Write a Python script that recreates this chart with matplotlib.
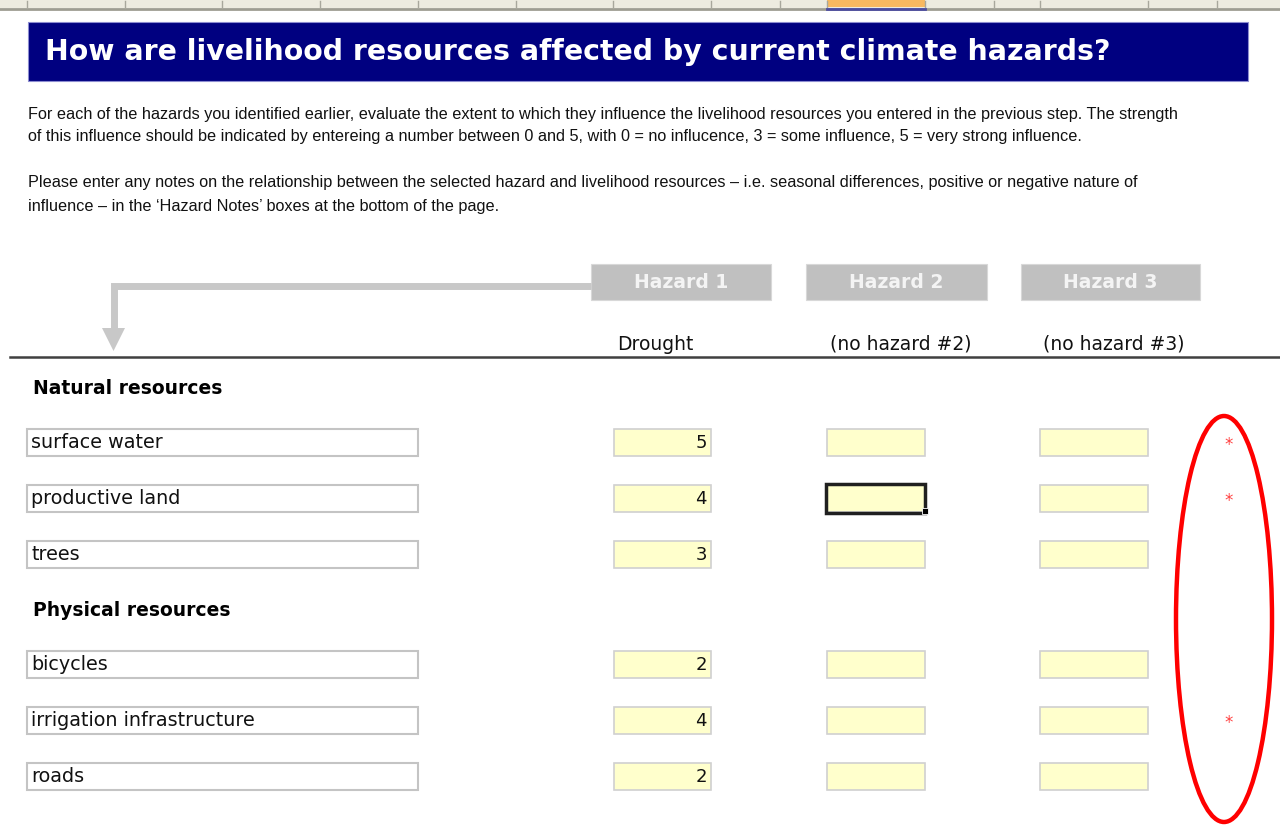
import matplotlib
matplotlib.use("Agg")
import matplotlib.pyplot as plt
from matplotlib.patches import Rectangle, Ellipse, Polygon

title = "How are livelihood resources affected by current climate hazards?"
intro_lines = [
    "For each of the hazards you identified earlier, evaluate the extent to which they influence the livelihood resources you entered in the previous step. The strength",
    "of this influence should be indicated by entereing a number between 0 and 5, with 0 = no influcence, 3 = some influence, 5 = very strong influence.",
    "",
    "Please enter any notes on the relationship between the selected hazard and livelihood resources \u2013 i.e. seasonal differences, positive or negative nature of",
    "influence \u2013 in the \u2018Hazard Notes\u2019 boxes at the bottom of the page.",
]
hazard_labels = ["Hazard 1", "Hazard 2", "Hazard 3"]
hazard_names = ["Drought", "(no hazard #2)", "(no hazard #3)"]
groups = ["Natural resources", "Physical resources"]
resources = ["surface water", "productive land", "trees",
             "bicycles", "irrigation infrastructure", "roads"]
resource_group = [0, 0, 0, 1, 1, 1]
drought_scores = [5, 4, 3, 2, 4, 2]
flagged = [True, True, False, False, True, False]

W, H = 1280, 825
fig = plt.figure(figsize=(W / 100, H / 100), dpi=100)
ax = fig.add_axes([0, 0, 1, 1])
ax.set_xlim(0, W)
ax.set_ylim(H, 0)
ax.axis("off")

narrow = ["Liberation Sans Narrow", "Liberation Sans", "DejaVu Sans"]

# spreadsheet column header strip at the very top
ax.add_patch(Rectangle((0, 0), W, 8, facecolor="#EDEBE0", edgecolor="none"))
ax.plot([0, W], [8.5, 8.5], color="#9E9D92", lw=2)
for x in [27, 125, 222, 320, 418, 516, 613, 711, 780, 827, 925, 994, 1040, 1148, 1217]:
    ax.plot([x, x], [1, 8], color="#A8A79C", lw=1)
ax.add_patch(Rectangle((827, 0), 98, 7, facecolor="#F8B860", edgecolor="none"))
ax.plot([827, 925], [8.5, 8.5], color="#4B4BA0", lw=2)

# title bar
ax.add_patch(Rectangle((28, 22), 1220, 59, facecolor="#000080",
                       edgecolor="#8C8CD0", lw=0.8))
ax.text(45, 51.5, title, color="white", fontsize=20.4, fontweight="bold",
        va="center", ha="left")

# intro paragraph
for i, line in enumerate(intro_lines):
    ax.text(28, 114 + 23 * i, line, fontsize=11.7, family=narrow,
            va="center", ha="left", color="#111111")

# hazard header boxes and names
col_x = [(614, 711), (827, 925), (1040, 1148)]
head_x = [(591, 771), (806, 987), (1021, 1200)]
for (x0, x1), (c0, c1), lab, name in zip(head_x, col_x, hazard_labels, hazard_names):
    ax.add_patch(Rectangle((x0, 264), x1 - x0, 36, facecolor="#C0C0C0",
                           edgecolor="#D8D8D8", lw=0.8))
    ax.text((x0 + x1) / 2, 282, lab, color="#F4F4F4", fontsize=13.5,
            fontweight="bold", ha="center", va="center")
    ax.text(c0 + 3, 344, name, color="#111111", fontsize=13.5,
            ha="left", va="center")

# grey arrow from Hazard 1 to the list
arrow_c = "#C8C8C8"
ax.plot([591, 113.5, 113.5], [286, 286, 330], color=arrow_c, lw=5,
        solid_joinstyle="miter", solid_capstyle="butt")
ax.add_patch(Polygon([(102, 328), (125, 328), (113.5, 351)], closed=True,
                     facecolor=arrow_c, edgecolor="none"))

# rule below the column names
ax.plot([10, W], [357, 357], color="#404040", lw=1.8)

# resource rows
y = 388
row_y = []
prev_group = None
for res, g in zip(resources, resource_group):
    if g != prev_group:
        if prev_group is not None:
            y += 56
        ax.text(33, y, groups[g], fontsize=13.5, fontweight="bold",
                va="center", ha="left", color="black")
        y += 54
        prev_group = g
    else:
        y += 56
    row_y.append(y)

for res, yc, score, flag in zip(resources, row_y, drought_scores, flagged):
    ax.add_patch(Rectangle((27, yc - 13.5), 391, 27, facecolor="white",
                           edgecolor="#C4C4C4", lw=1.5))
    ax.text(31, yc + 1, res, fontsize=13.8, va="center", ha="left",
            color="#111111")
    for j, (x0, x1) in enumerate(col_x):
        ax.add_patch(Rectangle((x0, yc - 13.5), x1 - x0, 27,
                               facecolor="#FFFFCC", edgecolor="#D0D0D0", lw=1.2))
    ax.text(col_x[0][1] - 4, yc + 1, str(score), fontsize=13,
            va="center", ha="right", color="#111111")
    if flag:
        ax.text(1229, yc + 3, "*", fontsize=12, color="#FF4040",
                va="center", ha="center")

# selected cell (hazard 2, productive land)
sy = row_y[1]
ax.add_patch(Rectangle((826, sy - 14.5), 99, 29, facecolor="none",
                       edgecolor="#202020", lw=2.5))
ax.add_patch(Rectangle((921.5, sy + 10), 6, 6, facecolor="black",
                       edgecolor="white", lw=0.6))

# red ellipse around the flags
ax.add_patch(Ellipse((1224, 619), 96, 406, facecolor="none",
                     edgecolor="#FF0000", lw=3.2))

fig.savefig("out.png", dpi=100)
